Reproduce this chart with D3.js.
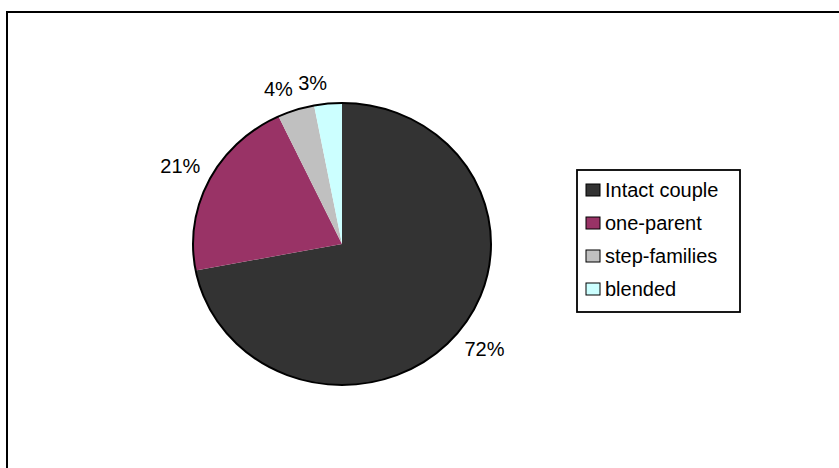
<!DOCTYPE html>
<html>
<head>
<meta charset="utf-8">
<script src="https://cdn.jsdelivr.net/npm/d3@7"></script>
<style>
  body { margin: 0; background: #fff; }
  svg { display: block; font-family: "Liberation Sans", Arial, sans-serif; }
</style>
</head>
<body>
<div id="chart"></div>
<script>
// family types and their share (%)
const categories = ["Intact couple", "one-parent", "step-families", "blended"];
const shares = [72, 21, 4, 3];
const labels = ["72%", "21%", "4%", "3%"];
const colors = ["#333333", "#993366", "#C0C0C0", "#CCFFFF"];

const W = 839, H = 468;
const svg = d3.select("#chart").append("svg")
    .attr("width", W)
    .attr("height", H);

// outer frame (runs past the right and bottom edges)
svg.append("rect")
    .attr("x", 7).attr("y", 12)
    .attr("width", 840).attr("height", 470)
    .attr("fill", "none")
    .attr("stroke", "#000")
    .attr("stroke-width", 2);

// pie is a little squashed vertically
const cx = 342, cy = 244, rx = 149, ry = 141;
const data = categories.map((c, i) => ({ name: c, value: shares[i], label: labels[i], color: colors[i] }));

const pie = d3.pie().value(d => d.value).sort(null);
const arcs = pie(data);
const arc = d3.arc().innerRadius(0).outerRadius(rx);

const g = svg.append("g")
    .attr("transform", `translate(${cx},${cy}) scale(1,${ry / rx})`);

g.selectAll("path.slice")
    .data(arcs)
    .enter()
    .append("path")
      .attr("class", "slice")
      .attr("d", arc)
      .attr("fill", d => d.data.color);

// outline only round the rim
g.append("ellipse")
    .attr("cx", 0).attr("cy", 0)
    .attr("rx", rx).attr("ry", rx)
    .attr("fill", "none")
    .attr("stroke", "#000")
    .attr("stroke-width", 2)
    .attr("vector-effect", "non-scaling-stroke");

// percentage labels sit just outside the rim, corner touching it
svg.append("g")
  .selectAll("text")
  .data(arcs)
  .enter()
  .append("text")
    .each(function (d) {
      const a = (d.startAngle + d.endAngle) / 2;
      const s = Math.sin(a), c = Math.cos(a);
      const x = cx + (rx + 10) * s;
      const y = cy - (ry + 10) * c;
      let base;
      if (c < 0) base = y + 16;
      else if (c > 0.8) base = y - 4;
      else base = y - 2;
      d3.select(this)
        .attr("x", x)
        .attr("y", base)
        .attr("text-anchor", s > 0 ? "start" : "end");
    })
    .attr("font-size", 20)
    .attr("fill", "#000")
    .text(d => d.data.label);

// legend
const lg = svg.append("g").attr("transform", "translate(577,170)");
lg.append("rect")
    .attr("x", 0).attr("y", 0)
    .attr("width", 163).attr("height", 142)
    .attr("fill", "#fff")
    .attr("stroke", "#000")
    .attr("stroke-width", 1.8);

const rowY = d3.scalePoint().domain(categories).range([20, 119]);

const item = lg.selectAll("g.item")
    .data(data)
    .enter()
    .append("g")
      .attr("class", "item")
      .attr("transform", d => `translate(0,${rowY(d.name)})`);

item.append("rect")
    .attr("x", 9).attr("y", -6)
    .attr("width", 14).attr("height", 12)
    .attr("fill", d => d.color)
    .attr("stroke", "#000")
    .attr("stroke-width", 1);

item.append("text")
    .attr("x", 28).attr("y", 7)
    .attr("font-size", 20)
    .attr("fill", "#000")
    .text(d => d.name);
</script>
</body>
</html>
